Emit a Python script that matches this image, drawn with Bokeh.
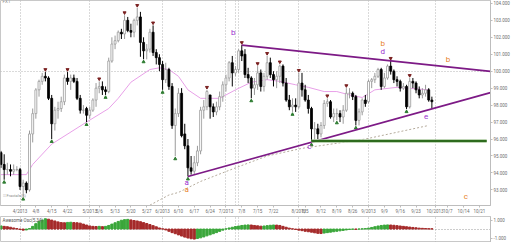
import numpy as np
from bokeh.plotting import figure
from bokeh.layouts import column
from bokeh.models import (ColumnDataSource, FixedTicker, Label, Range1d,
                          NumeralTickFormatter)
from bokeh.embed import file_html
from bokeh.resources import INLINE

# ---------------- data (USD/JPY daily) ----------------
opens = [95.2, 94.5, 94.2, 94.2, 94.1, 94.2, 94.2, 93.2, 93.4, 93.0,
         96.3, 97.5, 98.9, 99.4, 99.7, 99.6, 98.4, 96.9, 97.7, 97.8,
         98.2, 99.6, 99.4, 99.6, 99.4, 98.4, 97.7, 97.8, 97.4, 97.7,
         98.3, 99.0, 99.1, 98.9, 98.8, 100.6, 101.6, 101.8, 102.3, 102.2,
         103.0, 102.4, 102.3, 103.0, 103.2, 101.7, 101.2, 101.3, 102.3, 101.1,
         100.8, 100.4, 99.5, 100.1, 99.1, 96.8, 97.5, 98.7, 96.3, 95.6,
         94.3, 94.1, 94.6, 95.3, 97.7, 97.9, 98.6, 97.9, 97.6, 97.9,
         98.5, 99.2, 99.6, 100.5, 99.9, 100.1, 101.2, 101.0, 99.8, 99.6,
         99.0, 99.2, 99.9, 99.1, 99.7, 100.5, 99.8, 99.5, 99.7, 100.3,
         99.3, 98.3, 97.9, 98.0, 97.9, 99.3, 98.9, 98.3, 97.8, 96.6,
         96.6, 96.3, 96.8, 98.1, 98.2, 97.3, 97.5, 97.5, 97.3, 97.7,
         98.7, 98.7, 98.5, 97.1, 97.6, 98.3, 98.2, 99.4, 99.5, 99.7,
         100.1, 99.1, 99.6, 100.3, 100.0, 99.5, 99.4, 99.0, 99.1, 97.9,
         99.4, 99.3, 98.9, 98.6, 98.7, 98.9, 98.3]
highs = [95.3, 95.1, 94.6, 94.5, 94.5, 94.4, 94.3, 93.6, 93.5, 96.5,
         97.8, 99.0, 99.5, 99.9, 99.95, 99.7, 98.6, 97.9, 98.2, 98.5,
         99.8, 99.95, 99.8, 99.8, 99.6, 98.6, 98.0, 97.9, 97.9, 98.4,
         99.3, 99.4, 99.4, 99.1, 100.8, 102.0, 102.1, 102.4, 102.5, 103.3,
         103.2, 102.8, 103.1, 103.73, 103.5, 102.0, 101.6, 102.5, 102.7, 101.3,
         101.0, 100.6, 100.5, 100.2, 99.3, 97.8, 99.0, 99.0, 96.9, 96.0,
         95.0, 95.0, 95.6, 97.9, 98.3, 98.9, 98.6, 98.1, 98.2, 98.8,
         99.4, 99.8, 100.6, 100.9, 100.3, 101.3, 101.54, 101.3, 100.2, 99.7,
         99.6, 100.3, 100.1, 99.9, 100.9, 100.8, 100.0, 100.0, 100.4, 100.4,
         99.6, 98.6, 98.4, 98.4, 99.9, 99.9, 99.2, 98.6, 97.9, 97.0,
         96.9, 97.0, 98.3, 98.4, 98.3, 97.8, 97.8, 97.7, 98.0, 99.0,
         99.0, 98.8, 98.6, 97.8, 98.4, 98.6, 99.5, 99.6, 99.9, 100.2,
         100.2, 99.9, 100.4, 100.61, 100.1, 99.7, 99.5, 99.3, 99.2, 99.6,
         99.6, 99.4, 99.1, 99.0, 99.2, 99.0, 98.5]
lows = [94.3, 93.6, 93.9, 93.8, 93.9, 94.1, 93.0, 92.6, 92.8, 92.9,
        95.8, 97.2, 98.5, 99.2, 99.4, 98.3, 96.0, 96.5, 97.2, 97.6,
        98.0, 99.2, 98.9, 99.3, 98.3, 97.5, 97.5, 97.0, 97.2, 97.6,
        97.9, 98.7, 98.6, 98.6, 98.7, 100.5, 101.3, 101.7, 101.9, 101.9,
        102.3, 102.0, 102.0, 102.7, 100.85, 100.7, 100.7, 101.1, 100.9, 100.4,
        100.0, 98.9, 99.3, 98.9, 96.6, 94.98, 97.3, 96.1, 95.4, 93.79,
        93.9, 93.9, 94.4, 95.1, 97.2, 97.7, 97.2, 97.3, 97.4, 97.7,
        98.2, 98.8, 99.4, 99.1, 99.7, 99.9, 100.6, 99.6, 99.3, 98.4,
        98.6, 98.9, 98.8, 98.8, 99.5, 99.6, 99.1, 99.0, 99.3, 99.1,
        98.2, 97.7, 97.6, 97.6, 97.8, 98.5, 98.2, 97.5, 95.81, 95.9,
        96.0, 96.1, 96.6, 97.9, 97.2, 97.0, 97.1, 97.0, 96.9, 97.6,
        98.4, 98.3, 96.8, 96.8, 97.4, 97.9, 98.1, 99.0, 99.3, 99.6,
        98.9, 99.0, 99.5, 99.8, 99.3, 99.1, 98.8, 98.9, 97.76, 97.8,
        99.0, 98.7, 98.4, 98.4, 98.5, 98.2, 97.8]
closes = [94.5, 94.2, 94.2, 94.1, 94.2, 94.2, 93.2, 93.4, 93.0, 96.3,
          97.5, 98.9, 99.4, 99.7, 99.6, 98.4, 96.9, 97.7, 97.8, 98.2,
          99.6, 99.4, 99.6, 99.4, 98.4, 97.7, 97.7, 97.4, 97.7, 98.3,
          99.0, 99.1, 98.9, 98.8, 100.6, 101.6, 101.8, 102.3, 102.2, 103.0,
          102.4, 102.3, 103.0, 103.2, 101.7, 101.2, 101.3, 102.3, 101.1, 100.8,
          100.4, 99.5, 100.1, 99.1, 96.8, 97.5, 98.7, 96.2, 95.6, 94.3,
          94.1, 94.6, 95.3, 97.7, 97.9, 98.8, 97.9, 97.6, 97.9, 98.5,
          99.2, 99.6, 100.5, 99.9, 100.1, 101.2, 100.9, 99.8, 99.6, 99.0,
          99.2, 99.9, 99.1, 99.7, 100.5, 99.8, 99.5, 99.7, 100.3, 99.3,
          98.3, 97.9, 98.0, 97.9, 99.3, 98.9, 98.3, 97.8, 96.6, 96.6,
          96.3, 96.8, 98.1, 98.2, 97.3, 97.5, 97.5, 97.3, 97.7, 98.7,
          98.7, 98.5, 97.1, 97.6, 98.3, 98.1, 99.4, 99.5, 99.7, 100.1,
          99.1, 99.6, 100.3, 100.0, 99.5, 99.4, 99.0, 99.1, 97.9, 99.4,
          99.3, 98.9, 98.6, 98.7, 98.9, 98.3, 98.2]

# Awesome oscillator, one value per candle
ao = [0.35, 0.30, 0.26, 0.20, 0.12, 0.05, -0.05, -0.12, -0.10, 0.05,
      0.30, 0.60, 0.85, 1.00, 1.15, 1.10, 1.00, 0.90, 0.80, 0.72,
      0.70, 0.74, 0.76, 0.72, 0.70, 0.66, 0.55, 0.45, 0.35, 0.30,
      0.28, 0.30, 0.27, 0.30, 0.40, 0.55, 0.70, 0.85, 0.98, 1.05,
      1.08, 1.02, 0.95, 0.90, 0.82, 0.72, 0.62, 0.50, 0.38, 0.25,
      0.12, 0.02, -0.10, -0.25, -0.40, -0.52, -0.65, -0.78, -0.90, -1.00,
      -1.08, -1.12, -1.05, -0.98, -0.88, -0.76, -0.64, -0.52, -0.40, -0.26,
      -0.12, 0.02, 0.12, 0.20, 0.28, 0.34, 0.40, 0.44, 0.46, 0.45,
      0.40, 0.36, 0.32, 0.34, 0.38, 0.42, 0.45, 0.44, 0.40, 0.30,
      0.20, 0.10, 0.02, -0.05, -0.12, -0.18, -0.25, -0.30, -0.35, -0.42,
      -0.48, -0.50, -0.45, -0.40, -0.35, -0.30, -0.25, -0.20, -0.15, -0.10,
      -0.05, -0.02, -0.03, 0.00, 0.02, 0.05, 0.10, 0.18, 0.26, 0.34,
      0.40, 0.44, 0.46, 0.45, 0.42, 0.38, 0.34, 0.30, 0.26, 0.22,
      0.18, 0.14, 0.10, 0.08, 0.06, 0.04, 0.03]

# moving averages read at sample candles
ma_fast_idx = [0, 8, 10, 16, 27, 34, 37, 41, 47, 50, 53, 56, 59, 63, 69, 74,
               79, 84, 88, 93, 97, 102, 106, 110, 114, 118, 125, 135]
ma_fast_val = [93.9, 93.9, 94.5, 95.7, 97.0, 97.8, 98.4, 99.35, 100.1, 100.2,
               100.1, 99.7, 98.9, 98.4, 98.4, 98.9, 99.35, 99.5, 99.4, 99.2,
               99.05, 98.8, 98.8, 98.6, 98.45, 98.9, 99.05, 98.9]
ma_slow_idx = [47, 53, 56, 63, 74, 84, 95, 106, 115, 135]
ma_slow_val = [92.1, 92.7, 92.85, 93.5, 94.3, 95.0, 95.45, 95.75, 96.0, 96.8]

# fractal marks (candle indices)
fractal_high_idx = [14, 21, 31, 39, 43, 48, 65, 76, 81, 84, 88, 94, 103, 109, 123, 129]
fractal_low_idx = [1, 7, 16, 27, 33, 45, 51, 55, 59, 79, 92, 98, 106, 112, 128]

# wave pivots: a, b, c, d
pivot_a = (59, 93.79)
pivot_b = (76, 101.54)
pivot_c = (98, 95.81)
pivot_d = (123, 100.61)
support_level = 95.88

wave_x = [73.3, 58.6, 58.6, 97.3, 120.5, 120.5, 134.2, 141.1, 146.7]
wave_y = [102.3, 93.45, 93.05, 95.55, 101.15, 101.65, 97.3, 100.7, 92.6]
wave_text = ["b", "a", "a", "c", "d", "b", "e", "b", "c"]
wave_kind = ["p", "p", "o", "p", "p", "o", "p", "o", "o"]

# axis ticks
month_idx = [6, 28, 51, 71, 94, 116, 137]
marker_lines_idx = [74, 75]
tick_idx = [6, 11, 16, 21, 28, 31, 36, 41, 46, 51, 56, 61, 66, 71, 76, 81, 86,
            94, 96, 101, 106, 111, 116, 121, 126, 131, 137, 141, 146, 151]
tick_labels = ["4/2013", "4/8", "4/15", "4/22", "5/2013", "5/6", "5/13", "5/20",
               "5/27", "6/2013", "6/10", "6/17", "6/24", "7/2013", "7/8", "7/15",
               "7/22", "8/2013", "8/5", "8/12", "8/19", "8/26", "9/2013", "9/9",
               "9/16", "9/23", "10/2013", "10/7", "10/14", "10/21"]
price_ticks = [93, 94, 95, 96, 97, 98, 99, 100, 101, 102, 103, 104]

# ---------------- drawing ----------------
o = np.array(opens); h = np.array(highs); l = np.array(lows); c = np.array(closes)
n = len(c)
x = np.arange(n)
up = c >= o
src = ColumnDataSource(dict(
    x=x, h=h, l=l, top=np.maximum(o, c), bot=np.minimum(o, c),
    fill=np.where(up, "#ffffff", "#000000"),
    line=np.where(up, "#9a9a9a", "#000000"),
))

X0, X1 = -0.16, 154.5
FONT = "Roboto"
LBL = "#6e6e6e"

p = figure(width=512, height=216, x_range=Range1d(X0, X1),
           y_range=Range1d(92.08, 104.17), y_axis_location="right",
           output_backend="svg", toolbar_location=None,
           min_border_left=0, min_border_top=0, min_border_bottom=0,
           min_border_right=0, background_fill_color="white",
           border_fill_color="white", outline_line_color="#c8c8c8")

p.xgrid.ticker = FixedTicker(ticks=month_idx + marker_lines_idx)
p.xgrid.grid_line_color = "#b4b4b4"
p.xgrid.grid_line_dash = "1 2"
p.ygrid.ticker = FixedTicker(ticks=[100])
p.ygrid.grid_line_color = "#b4b4b4"
p.ygrid.grid_line_dash = "1 2"

# moving averages
p.line(ma_slow_idx, ma_slow_val, color="#b5ab9c", line_width=1, line_dash="2 2")
p.line(ma_fast_idx, ma_fast_val, color="#e8a0e8", line_width=1)

# candles
p.segment(x0="x", y0="h", x1="x", y1="l", color="line", line_width=1, source=src)
p.vbar(x="x", width=0.62, top="top", bottom="bot", fill_color="fill",
       line_color="line", line_width=0.8, source=src)

# fractals
fh = np.array(fractal_high_idx); fl = np.array(fractal_low_idx)
p.scatter(fh, h[fh] + 0.15, marker="inverted_triangle", size=3,
          color="#7a2020")
p.scatter(fl, l[fl] - 0.15, marker="triangle", size=3, color="#2f7d32")

# trend lines
def extend(p0, p1, xe):
    slope = (p1[1] - p0[1]) / (p1[0] - p0[0])
    return [p0[0], xe], [p0[1], p0[1] + slope * (xe - p0[0])]

ux, uy = extend(pivot_b, pivot_d, X1)
lx, ly = extend(pivot_a, pivot_c, X1)
p.line(ux, uy, color="#7d1a86", line_width=1.8)
p.line(lx, ly, color="#7d1a86", line_width=1.8)
p.line([pivot_c[0], X1 - 1.2], [support_level, support_level],
       color="#a9c79c", line_width=3.5)
p.line([pivot_c[0], X1 - 1.2], [support_level, support_level],
       color="#2e6b1e", line_width=2)

# wave letters
for wx, wy, wt, wk in zip(wave_x, wave_y, wave_text, wave_kind):
    p.add_layout(Label(x=wx, y=wy, text=wt, text_font=FONT,
                       text_font_size="8px",
                       text_color="#9b30d0" if wk == "p" else "#e8822a",
                       text_align="center", text_baseline="middle"))

# top-left instrument text
p.add_layout(Label(x=0.5, y=103.95, text="FXT", text_font=FONT,
                   text_font_size="4.5px", text_color="#8a8a8a"))
p.add_layout(Label(x=0.5, y=92.55, text="⁝⁝⁝ Fractals(5)", text_font=FONT,
                   text_font_size="4px", text_color="#8a8a8a"))

# axes
p.yaxis.ticker = FixedTicker(ticks=price_ticks)
p.yaxis.formatter = NumeralTickFormatter(format="0.000")
p.xaxis.ticker = FixedTicker(ticks=tick_idx)
p.xaxis.major_label_overrides = {t: s for t, s in zip(tick_idx, tick_labels)}
for ax in (p.xaxis, p.yaxis):
    ax.major_label_text_font = FONT
    ax.major_label_text_font_size = "4.5px"
    ax.major_label_text_color = LBL
    ax.axis_line_color = "#bdbdbd"
    ax.major_tick_line_color = "#bdbdbd"
    ax.major_tick_in = 0
    ax.major_tick_out = 2
    ax.minor_tick_line_color = None
    ax.major_label_standoff = 1

# price boxes on the right scale
for val, bg in [(uy[1], "#d9d9d9"), (closes[-1] + 0.85, "#e6e6e6"),
                (ly[1] - 0.6, "#8d8fd8"), (96.75, "#e6e6e6")]:
    p.add_layout(Label(x=X1, y=val, x_offset=2, text=f"{val:.3f}",
                       text_font=FONT, text_font_size="4.5px",
                       text_color="#444444" if bg != "#8d8fd8" else "white",
                       text_baseline="middle", background_fill_color=bg,
                       border_line_color="#9a9a9a"))

# ---------------- oscillator ----------------
aoa = np.array(ao)
prev = np.concatenate([[aoa[0]], aoa[:-1]])
ao_col = np.where(aoa >= prev, "#3aa63a", "#a52a2a")
q = figure(width=512, height=26, x_range=p.x_range, y_range=Range1d(-1.5, 1.4),
           y_axis_location="right", output_backend="svg", toolbar_location=None,
           min_border_left=0, min_border_top=0, min_border_bottom=0,
           min_border_right=0, outline_line_color="#c8c8c8",
           background_fill_color="white", border_fill_color="white")
q.xaxis.visible = False
q.xgrid.ticker = FixedTicker(ticks=month_idx + marker_lines_idx)
q.xgrid.grid_line_color = "#b4b4b4"
q.xgrid.grid_line_dash = "1 2"
q.ygrid.ticker = FixedTicker(ticks=[0])
q.ygrid.grid_line_color = "#9a9a9a"
q.ygrid.grid_line_dash = "1 2"
q.vbar(x=x, top=aoa, bottom=0, width=0.7, color=ao_col)
q.yaxis.ticker = FixedTicker(ticks=[-1, 1])
q.yaxis.formatter = NumeralTickFormatter(format="0.000")
q.yaxis.major_label_text_font = FONT
q.yaxis.major_label_text_font_size = "4.5px"
q.yaxis.major_label_text_color = LBL
q.yaxis.axis_line_color = "#bdbdbd"
q.yaxis.major_tick_line_color = "#bdbdbd"
q.yaxis.major_tick_in = 0
q.yaxis.major_tick_out = 2
q.yaxis.minor_tick_line_color = None
q.yaxis.major_label_standoff = 1
q.add_layout(Label(x=0.5, y=0.95, text="Awesome Osc(5,34)", text_font=FONT,
                   text_font_size="4.5px", text_color="#555555",
                   text_baseline="middle"))
q.add_layout(Label(x=X1, y=0, x_offset=2, text="0.030", text_font=FONT,
                   text_font_size="4.5px", text_color="#444444",
                   text_baseline="middle", background_fill_color="#eeeeee",
                   border_line_color="#9a9a9a"))

layout = column(p, q, spacing=0)
open("out.html", "w").write(file_html(layout, INLINE))
